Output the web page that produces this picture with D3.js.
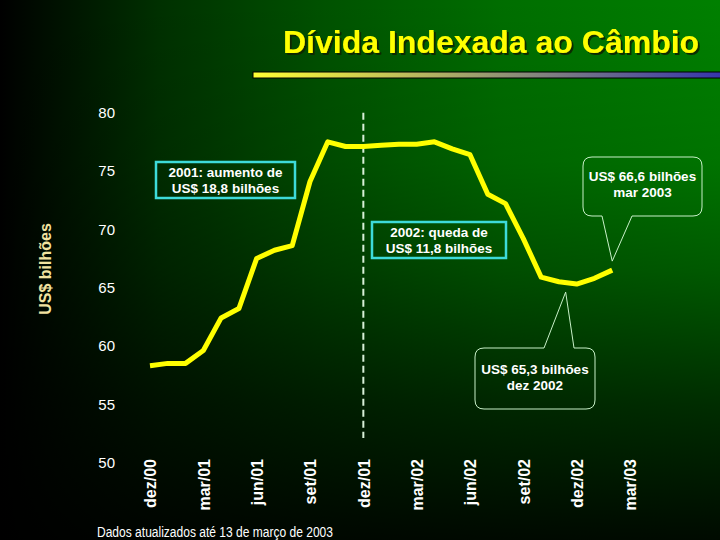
<!DOCTYPE html>
<html>
<head>
<meta charset="utf-8">
<script src="https://cdn.jsdelivr.net/npm/d3@7"></script>
<style>
  html, body { margin: 0; padding: 0; background: #000; }
  svg { display: block; font-family: "Liberation Sans", Arial, sans-serif; }
</style>
</head>
<body>
<div id="grafico"></div>
<script>
// meses do eixo (dez/00 a mar/03)
var meses = ["dez/00","jan/01","fev/01","mar/01","abr/01","mai/01","jun/01","jul/01","ago/01","set/01","out/01","nov/01",
  "dez/01","jan/02","fev/02","mar/02","abr/02","mai/02","jun/02","jul/02","ago/02","set/02","out/02","nov/02",
  "dez/02","jan/03","fev/03","mar/03"];
// estoque em US$ bilhoes
var divida = [58.3,58.5,58.5,59.6,62.4,63.2,67.5,68.2,68.6,74.1,77.5,77.1,
  77.1,77.2,77.3,77.3,77.5,76.9,76.4,73.0,72.2,69.2,65.9,65.5,
  65.3,65.8,66.5];
var rotulosX = ["dez/00","mar/01","jun/01","set/01","dez/01","mar/02","jun/02","set/02","dez/02","mar/03"];
var ticksY = [50,55,60,65,70,75,80];

var largura = 720, alto = 540;

var svg = d3.select("#grafico").append("svg")
  .attr("width", largura)
  .attr("height", alto);

// fundos degradê
var defs = svg.append("defs");
var gh = defs.append("linearGradient").attr("id","fundoH").attr("x1",0).attr("x2",1).attr("y1",0).attr("y2",0);
[[0,"#000000"],[0.22,"#003000"],[0.45,"#005200"],[0.7,"#006e00"],[1,"#008000"]].forEach(function(s){
  gh.append("stop").attr("offset",s[0]).attr("stop-color",s[1]);
});
var gv = defs.append("linearGradient").attr("id","fundoV").attr("x1",0).attr("x2",0).attr("y1",0).attr("y2",1);
[[0,0],[0.3,0.1],[0.5,0.3],[0.75,0.65],[1,0.92]].forEach(function(s){
  gv.append("stop").attr("offset",s[0]).attr("stop-color","#000").attr("stop-opacity",s[1]);
});
var gb = defs.append("linearGradient").attr("id","barra").attr("x1",0).attr("x2",1).attr("y1",0).attr("y2",0);
gb.append("stop").attr("offset",0).attr("stop-color","#ffff33");
gb.append("stop").attr("offset",1).attr("stop-color","#3030b0");
defs.append("filter").attr("id","sombra")
  .append("feDropShadow").attr("dx",2).attr("dy",2).attr("stdDeviation",0.4)
  .attr("flood-color","#0a2000").attr("flood-opacity",0.9);

svg.append("rect").attr("width",largura).attr("height",alto).style("fill","url(#fundoH)");
svg.append("rect").attr("width",largura).attr("height",alto).style("fill","url(#fundoV)");

// titulo
svg.append("text").attr("x",283).attr("y",53)
  .text("Dívida Indexada ao Câmbio")
  .attr("filter","url(#sombra)")
  .style("font-size","32px").style("font-weight","bold").style("fill","#ffff00");
svg.append("rect").attr("x",253).attr("y",72).attr("width",480).attr("height",6)
  .style("fill","url(#barra)").style("stroke","#000").style("stroke-width",1);

// escalas
var escalaX = d3.scalePoint().domain(meses).range([150,630]);
var escalaY = d3.scaleLinear().domain([50,80]).range([462.5,112.7]);

// eixo Y
var ejeY = svg.append("g")
  .attr("transform","translate(115,0)")
  .call(d3.axisLeft(escalaY).tickValues(ticksY).tickSize(0).tickPadding(0));
ejeY.select(".domain").remove();
ejeY.selectAll("text")
  .style("font-size","15px").style("fill","#fff")
  .style("font-family","'Liberation Sans', Arial, sans-serif");

// eixo X
var ejeX = svg.append("g")
  .attr("transform","translate(0,459)")
  .call(d3.axisBottom(escalaX).tickValues(rotulosX).tickSize(0).tickPadding(0));
ejeX.select(".domain").remove();
ejeX.selectAll("text")
  .attr("x",0).attr("y",0).attr("dy","0.36em")
  .attr("text-anchor","end")
  .attr("transform","rotate(-90)")
  .style("font-size","16px").style("font-weight","bold").style("fill","#fff")
  .style("font-family","'Liberation Sans', Arial, sans-serif");

// titulo do eixo Y
svg.append("text")
  .attr("transform","translate(45,269) rotate(-90)")
  .attr("text-anchor","middle").attr("dy","0.36em")
  .text("US$ bilhões")
  .style("font-size","16px").style("font-weight","bold").style("fill","#f2e3a0");

// linha tracejada em dez/01
svg.append("line")
  .attr("x1",escalaX("dez/01")).attr("x2",escalaX("dez/01"))
  .attr("y1",escalaY(80)).attr("y2",escalaY(52.1))
  .style("stroke","#d8f0d8").style("stroke-width",2).style("stroke-dasharray","7,4");

// linha da divida
var pontos = divida.map(function(v,i){ return {mes: meses[i], valor: v}; });
svg.append("path")
  .datum(pontos)
  .attr("d", d3.line()
    .x(function(d){ return escalaX(d.mes); })
    .y(function(d){ return escalaY(d.valor); }))
  .style("fill","none").style("stroke","#ffff00")
  .style("stroke-width",5).style("stroke-linejoin","round");

// caixas com borda ciano
function caixa(x, y, w, h, linhas){
  svg.append("rect").attr("x",x).attr("y",y).attr("width",w).attr("height",h)
    .style("fill","none").style("stroke","#3ddbd9").style("stroke-width",2.5);
  linhas.forEach(function(t,i){
    svg.append("text").attr("x",x+w/2).attr("y",y+14.5+i*16)
      .attr("text-anchor","middle").text(t)
      .style("font-size","13.5px").style("font-weight","bold").style("fill","#fff");
  });
}
caixa(156,162,139,36,["2001: aumento de","US$ 18,8 bilhões"]);
caixa(372,222,134,36,["2002: queda de","US$ 11,8 bilhões"]);

// baloes
function balao(x, y, w, h, r, b1, b2, tip, embaixo, linhas, ty){
  var p = "M" + (x+r) + "," + y;
  if (!embaixo) { p += "L" + b1 + "," + y + "L" + tip[0] + "," + tip[1] + "L" + b2 + "," + y; }
  p += "L" + (x+w-r) + "," + y + "Q" + (x+w) + "," + y + " " + (x+w) + "," + (y+r);
  p += "L" + (x+w) + "," + (y+h-r) + "Q" + (x+w) + "," + (y+h) + " " + (x+w-r) + "," + (y+h);
  if (embaixo) { p += "L" + b2 + "," + (y+h) + "L" + tip[0] + "," + tip[1] + "L" + b1 + "," + (y+h); }
  p += "L" + (x+r) + "," + (y+h) + "Q" + x + "," + (y+h) + " " + x + "," + (y+h-r);
  p += "L" + x + "," + (y+r) + "Q" + x + "," + y + " " + (x+r) + "," + y + "Z";
  svg.append("path").attr("d",p)
    .style("fill","none").style("stroke","#c8f0c8").style("stroke-width",1);
  linhas.forEach(function(t,i){
    svg.append("text").attr("x",x+w/2).attr("y",y+ty+i*16)
      .attr("text-anchor","middle").text(t)
      .style("font-size","13.5px").style("font-weight","bold").style("fill","#fff");
  });
}
var ultimo = pontos[pontos.length-1];
balao(583,157,119,59,9,602,632,[escalaX(ultimo.mes), escalaY(ultimo.valor)-9], true,
  ["US$ 66,6 bilhões","mar 2003"], 24);
balao(475,348,120,61,9,544,574,[escalaX("dez/02")-11, escalaY(divida[meses.indexOf("dez/02")])+8], false,
  ["US$ 65,3 bilhões","dez 2002"], 26);

// rodape
svg.append("text").attr("x",97).attr("y",537)
  .attr("textLength",236).attr("lengthAdjust","spacingAndGlyphs")
  .text("Dados atualizados até 13 de março de 2003")
  .style("font-family","'Liberation Sans Narrow', 'Liberation Sans', Arial, sans-serif")
  .style("font-size","14px").style("fill","#fff");
</script>
</body>
</html>
